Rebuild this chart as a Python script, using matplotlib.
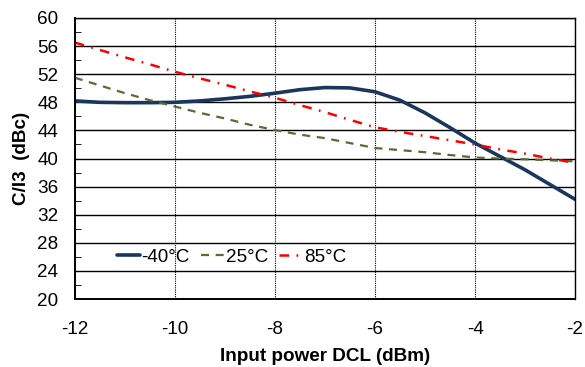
import matplotlib
matplotlib.use("Agg")
import matplotlib.pyplot as plt
from matplotlib.ticker import MultipleLocator

plt.rcParams['font.family'] = ['Liberation Sans', 'DejaVu Sans']
plt.rcParams['axes.unicode_minus'] = False

power = [-12, -11.5, -11, -10.5, -10, -9.5, -9, -8.5, -8, -7.5, -7,
         -6.5, -6, -5.5, -5, -4.5, -4, -3.5, -3, -2.5, -2]
ci3_m40 = [48.2, 48.0, 47.95, 47.95, 48.0, 48.2, 48.5, 48.85, 49.3, 49.8, 50.1,
           50.05, 49.5, 48.3, 46.5, 44.4, 42.2, 40.3, 38.4, 36.3, 34.2]
ci3_25 = [51.5, 50.4, 49.3, 48.3, 47.4, 46.5, 45.7, 44.8, 44.05, 43.4, 42.9,
          42.2, 41.5, 41.2, 40.9, 40.5, 40.15, 40.0, 39.9, 39.75, 39.6]
ci3_85 = [56.5, 55.45, 54.4, 53.4, 52.35, 51.4, 50.5, 49.55, 48.65, 47.6, 46.6,
          45.5, 44.45, 43.8, 43.2, 42.6, 42.0, 41.3, 40.7, 40.0, 39.4]
labels = ['-40°C', '25°C', '85°C']

fig = plt.figure(figsize=(5.85, 3.67), dpi=100)
ax = fig.add_axes([0.128, 0.185, 0.855, 0.766])

ax.plot(power, ci3_m40, color='#1b365d', lw=2.6, label=labels[0],
        solid_capstyle='round')
ax.plot(power, ci3_25, color='#5a6b35', lw=1.6, dashes=(3.6, 3), label=labels[1])
ax.plot(power, ci3_85, color='#ff0000', lw=1.8, dashes=(3.8, 3, 0.7, 3),
        label=labels[2])

ax.set_xlim(-12, -2)
ax.set_ylim(20, 60)
ax.xaxis.set_major_locator(MultipleLocator(2))
ax.yaxis.set_major_locator(MultipleLocator(4))
ax.yaxis.set_minor_locator(MultipleLocator(2))
ax.grid(axis='y', which='major', color='black', lw=1.0, ls='-')
ax.grid(axis='x', which='major', color='black', lw=0.8, ls=(0, (1, 1)))
ax.set_axisbelow(True)
ax.tick_params(axis='both', which='major', length=0, labelsize=13.6)
ax.tick_params(axis='y', which='major', pad=12)
ax.tick_params(axis='x', which='major', pad=16)
ax.tick_params(axis='y', which='minor', direction='in', length=4,
               color='black', left=True)

for s in ax.spines.values():
    s.set_color('black')
    s.set_linewidth(1.0)
ax.spines['left'].set_linewidth(1.4)
ax.spines['bottom'].set_linewidth(1.4)

ax.set_xlabel('Input power DCL (dBm)', fontsize=13.6, fontweight='bold',
              labelpad=7)
ax.set_ylabel('C/I3  (dBc)', fontsize=13.6, fontweight='bold', labelpad=5)

ax.legend(loc='center left', bbox_to_anchor=(0.084, 0.15), ncol=3,
          frameon=False, fontsize=13.6, handlelength=1.2, handletextpad=0.1,
          columnspacing=0.6, borderpad=0, borderaxespad=0)

fig.savefig('out.png', dpi=100)
